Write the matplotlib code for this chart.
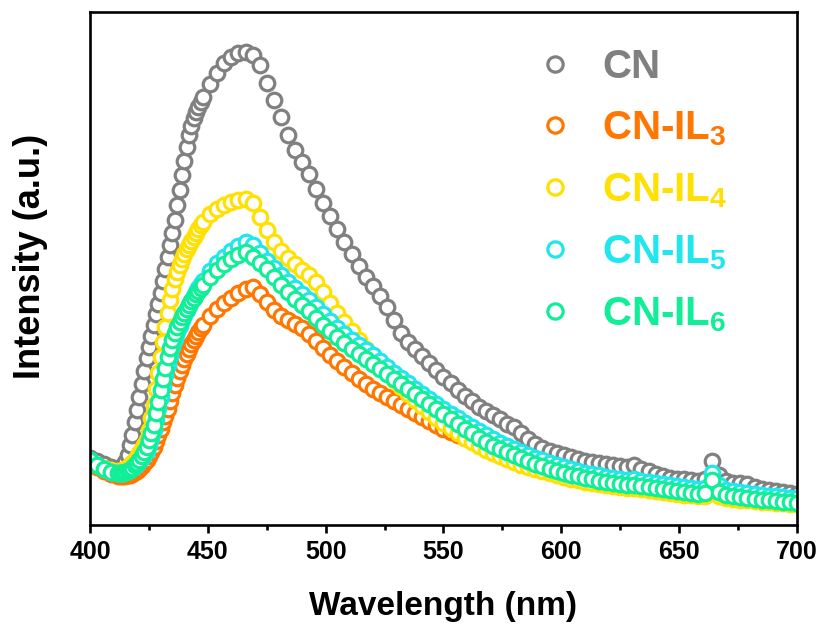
import numpy as np
import matplotlib
matplotlib.use("Agg")
import matplotlib.pyplot as plt
from matplotlib.ticker import MultipleLocator

plt.rcParams.update({
    'font.family': 'Liberation Sans',
    'font.weight': 'bold',
    'axes.labelweight': 'bold',
    'mathtext.fontset': 'custom',
    'mathtext.rm': 'Liberation Sans:bold',
    'mathtext.it': 'Liberation Sans:bold',
    'mathtext.bf': 'Liberation Sans:bold',
    'mathtext.default': 'bf',
})

# wavelength grid (nm): 3 nm steps, 1 nm steps across the steep rising edge
wavelength = np.concatenate([np.arange(400, 413, 3),
                             np.arange(413, 448, 1),
                             np.arange(448, 701, 3)])

# PL intensity (a.u.)
cn = [67, 64, 61, 58, 57,
      57, 58, 63, 70, 80, 90, 103, 115, 128, 141, 154, 167, 178, 189, 200, 211, 221, 232, 244, 256,
      268, 280, 292, 305, 320, 335, 350, 364, 378, 390, 399, 407, 413, 418, 423,
      428, 441, 452, 462, 468, 472, 473, 470, 460, 442, 425, 408, 390, 375, 363, 351, 336, 322, 309, 296,
      283, 271, 259, 248, 239, 229, 218, 205, 192, 183, 176, 169, 162, 155, 148, 142, 135, 129, 124, 118,
      114, 110, 106, 101, 98, 92, 86, 81, 77, 74, 72, 70, 68, 66, 64, 63, 62, 61, 60, 59,
      58, 60, 56, 54, 51, 49, 47, 46, 46, 45, 44, 46, 64, 50, 44, 42, 42, 41, 38, 36,
      35, 34, 33, 32, 31]
cn_il3 = [62, 58, 54, 51, 49,
          49, 49, 49, 50, 50, 51, 53, 54, 56, 59, 62, 65, 69, 73, 78, 84, 90, 96, 103, 109,
          116, 124, 132, 140, 147, 154, 160, 166, 171, 176, 181, 185, 189, 193, 197,
          200, 209, 216, 222, 227, 232, 236, 238, 231, 223, 215, 209, 205, 201, 197, 191, 184, 177, 170, 164,
          158, 152, 146, 141, 136, 132, 128, 124, 120, 116, 112, 108, 104, 100, 96, 93, 90, 87, 84, 81,
          78, 75, 72, 70, 67, 64, 62, 59, 57, 55, 53, 51, 49, 48, 46, 45, 43, 42, 41, 40,
          39, 39, 38, 37, 36, 35, 34, 33, 32, 31, 31, 31, 40, 32, 29, 28, 27, 27, 26, 25,
          25, 24, 23, 23, 22]
cn_il4 = [63, 60, 57, 55, 54,
          54, 55, 56, 58, 60, 62, 65, 68, 72, 76, 80, 85, 95, 107, 120, 136, 152, 168, 183, 198,
          212, 225, 236, 246, 253, 260, 266, 271, 276, 280, 284, 288, 292, 296, 300,
          303, 311, 316, 320, 323, 325, 326, 322, 308, 295, 283, 274, 267, 261, 255, 250, 243, 233, 222, 212,
          203, 194, 185, 176, 168, 160, 152, 145, 138, 131, 125, 119, 113, 107, 102, 97, 92, 87, 83, 79,
          75, 72, 69, 66, 63, 60, 58, 56, 54, 52, 50, 48, 46, 45, 43, 42, 41, 40, 39, 38,
          37, 37, 36, 35, 34, 33, 32, 31, 30, 30, 29, 29, 36, 29, 27, 26, 25, 25, 24, 23,
          23, 22, 22, 21, 21]
cn_il5 = [64, 60, 56, 53, 52,
          52, 52, 53, 54, 55, 57, 59, 61, 64, 67, 70, 74, 80, 87, 95, 106, 117, 128, 139, 150,
          160, 169, 178, 186, 193, 199, 205, 210, 215, 220, 224, 229, 233, 237, 241,
          244, 254, 262, 268, 274, 279, 283, 280, 272, 264, 257, 250, 243, 237, 231, 225, 218, 211, 204, 197,
          191, 185, 180, 175, 170, 164, 158, 152, 147, 142, 136, 131, 126, 121, 116, 111, 107, 102, 98, 94,
          90, 86, 82, 79, 76, 73, 70, 67, 65, 62, 60, 58, 56, 54, 52, 51, 50, 48, 47, 46,
          45, 46, 44, 43, 42, 41, 40, 39, 38, 37, 36, 37, 52, 40, 35, 34, 33, 32, 31, 30,
          29, 29, 28, 27, 27]
cn_il6 = [65, 60, 56, 53, 52,
          52, 52, 53, 54, 55, 57, 60, 62, 65, 69, 73, 78, 85, 92, 100, 112, 123, 135, 146, 157,
          168, 177, 185, 192, 198, 203, 208, 212, 216, 220, 224, 227, 231, 234, 237,
          240, 248, 255, 261, 266, 270, 273, 268, 262, 256, 248, 240, 233, 226, 220, 214, 207, 200, 194, 188,
          182, 176, 171, 166, 161, 156, 151, 146, 141, 136, 131, 126, 121, 116, 111, 106, 101, 96, 92, 87,
          83, 79, 76, 73, 70, 67, 64, 61, 59, 56, 54, 52, 50, 49, 47, 46, 44, 43, 42, 41,
          40, 40, 39, 38, 37, 36, 35, 34, 33, 32, 31, 32, 45, 33, 30, 29, 28, 27, 26, 25,
          25, 24, 23, 23, 22]

labels = ['CN', 'CN-IL$_3$', 'CN-IL$_4$', 'CN-IL$_5$', 'CN-IL$_6$']
colors = ['#808080', '#ff7700', '#ffe000', '#20e6ee', '#10ee98']
series = [cn, cn_il3, cn_il4, cn_il5, cn_il6]

fig = plt.figure(figsize=(8.24, 6.26), dpi=100)
ax = fig.add_axes([0.1092, 0.1613, 0.858, 0.8195])

for y, c, lab in zip(series, colors, labels):
    ax.plot(wavelength, y, linestyle='none', marker='o', markersize=10.5,
            markeredgewidth=2.3, markeredgecolor=c, markerfacecolor='white',
            color=c, label=lab)

ax.set_xlim(400, 700)
ax.set_ylim(0, 513)
ax.xaxis.set_major_locator(MultipleLocator(50))
ax.xaxis.set_minor_locator(MultipleLocator(25))
ax.set_yticks([])
ax.tick_params(axis='x', which='major', direction='out', length=6, width=1.9,
               labelsize=18, pad=5, top=False)
ax.tick_params(axis='x', which='minor', direction='out', length=3.5, width=1.9, top=False)
for sp in ax.spines.values():
    sp.set_linewidth(1.9)

ax.set_xlabel('Wavelength (nm)', fontsize=24)
ax.set_ylabel('Intensity (a.u.)', fontsize=26)
ax.xaxis.set_label_coords(0.5, -0.128)
ax.yaxis.set_label_coords(-0.06, 0.524)

leg = ax.legend(loc='upper left', bbox_to_anchor=(0.629, 0.93), frameon=False,
                fontsize=29, labelcolor='linecolor', handlelength=1.0,
                handletextpad=0.67, borderpad=0, borderaxespad=0,
                labelspacing=0.58, markerscale=1.05)

fig.savefig('out.png', dpi=100)
